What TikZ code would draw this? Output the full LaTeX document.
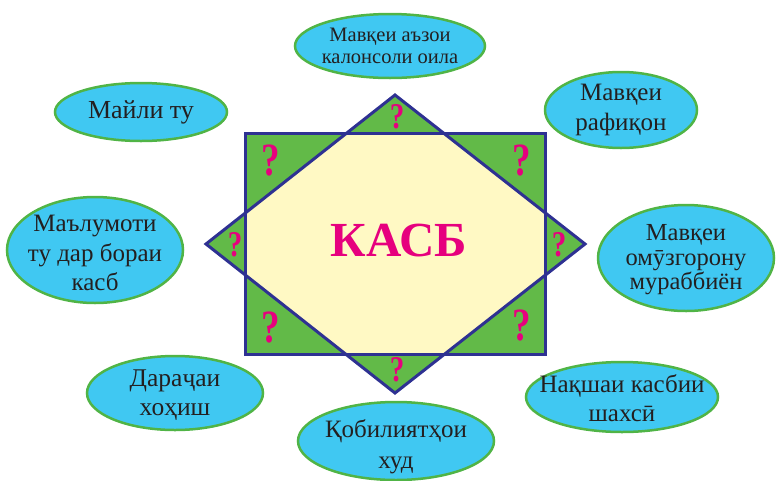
\documentclass[tikz,border=0pt]{standalone}
\usepackage{fontspec}
\setmainfont{Liberation Serif}
\definecolor{cyanfill}{RGB}{64,200,242}
\definecolor{ellborder}{RGB}{80,180,70}
\definecolor{greenfill}{RGB}{98,186,72}
\definecolor{darkblue}{RGB}{46,49,146}
\definecolor{paleyellow}{RGB}{255,249,196}
\definecolor{magentaq}{RGB}{230,0,126}
\definecolor{inktext}{RGB}{35,31,32}
\newcommand{\tallq}{\scalebox{1}[1.25]{?}}
\tikzset{
  bubble/.style={fill=cyanfill, draw=ellborder, line width=2.5pt},
  bubbletext/.style={align=center, font=\fontsize{25}{29.5}\selectfont, text=inktext, inner sep=0pt},
  qmark/.style={text=magentaq, font=\fontsize{37}{37}\selectfont\bfseries, inner sep=0pt},
  qsmall/.style={text=magentaq, font=\fontsize{29}{29}\selectfont\bfseries, inner sep=0pt},
  outline/.style={draw=darkblue, line width=3pt, line join=miter}
}
\begin{document}
\begin{tikzpicture}[x=1pt,y=-1pt]
\useasboundingbox (0,0) rectangle (776,480);
% central figure
\coordinate (R1) at (245,133);
\coordinate (R2) at (545,354);
\coordinate (DT) at (395,95);
\coordinate (DR) at (585,244);
\coordinate (DB) at (395,393);
\coordinate (DL) at (206,244);
\fill[greenfill] (R1) rectangle (R2);
\fill[greenfill] (DT) -- (DR) -- (DB) -- (DL) -- cycle;
\begin{scope}
  \clip (R1) rectangle (R2);
  \fill[paleyellow] (DT) -- (DR) -- (DB) -- (DL) -- cycle;
\end{scope}
\draw[outline] (R1) rectangle (R2);
\draw[outline] (DT) -- (DR) -- (DB) -- (DL) -- cycle;
\node[text=magentaq, font=\fontsize{49}{49}\selectfont\bfseries, inner sep=0pt] (kasb) at (399,241) {КАСБ};
% question marks
\node[qmark] (q1) at (271,160.5) {\tallq};
\node[qmark] (q2) at (522,160.5) {\tallq};
\node[qmark] (q3) at (271,328) {\tallq};
\node[qmark] (q4) at (522,326) {\tallq};
\node[qsmall] (q5) at (397,117) {\tallq};
\node[qsmall] (q6) at (397,370) {\tallq};
\node[qsmall] (q7) at (235,245) {\tallq};
\node[qsmall] (q8) at (559,245) {\tallq};
% bubbles
\draw[bubble] (390,46) ellipse [x radius=95, y radius=32];
\node[bubbletext, font=\fontsize{20.5}{22}\selectfont] (b1) at (390,46) {Мавқеи аъзои\\калонсоли оила};
\draw[bubble] (621,110) ellipse [x radius=76, y radius=38];
\node[bubbletext] (b2) at (621,110) {Мавқеи\\рафиқон};
\draw[bubble] (686,258) ellipse [x radius=88, y radius=53];
\node[bubbletext, font=\fontsize{24.5}{24.5}\selectfont] (b3) at (686,260) {Мавқеи\\омӯзгорону\\мураббиён};
\draw[bubble] (622,397) ellipse [x radius=96, y radius=35];
\node[bubbletext] (b4) at (622,398) {Нақшаи касбии\\шахсӣ};
\draw[bubble] (396,441) ellipse [x radius=98, y radius=39];
\node[bubbletext, font=\fontsize{25}{31}\selectfont] (b5) at (396,447) {Қобилиятҳои\\худ};
\draw[bubble] (175,393) ellipse [x radius=88, y radius=37];
\node[bubbletext, font=\fontsize{25.5}{29}\selectfont] (b6) at (175,395) {Дараҷаи\\хоҳиш};
\draw[bubble] (95,250) ellipse [x radius=88, y radius=53];
\node[bubbletext] (b7) at (95,253) {Маълумоти\\ту дар бораи\\касб};
\draw[bubble] (141,112) ellipse [x radius=86, y radius=29];
\node[bubbletext, font=\fontsize{26}{27}\selectfont] (b8) at (141,112) {Майли ту};
\end{tikzpicture}
\end{document}
